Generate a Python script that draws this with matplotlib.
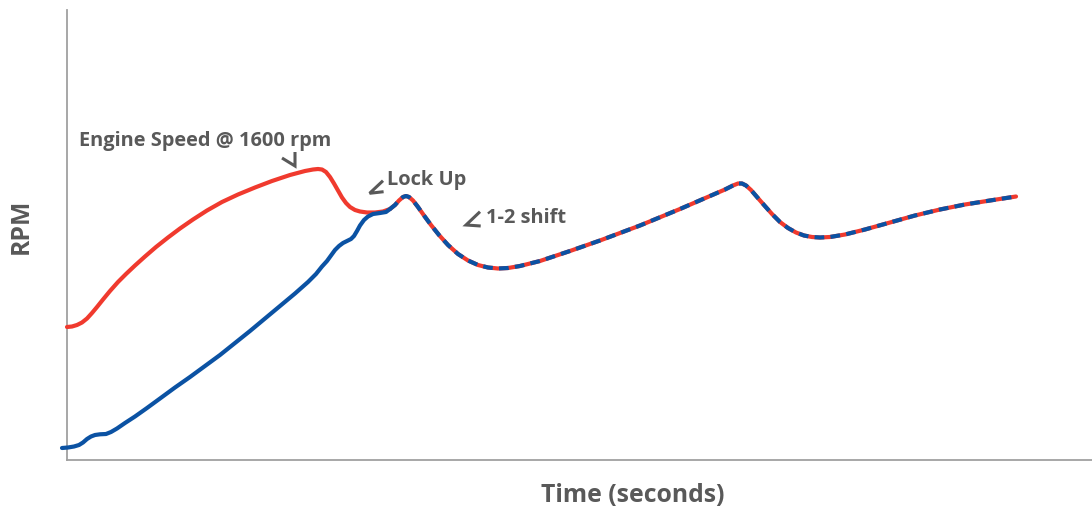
import matplotlib
matplotlib.use("Agg")
import matplotlib.pyplot as plt
import numpy as np

# ── Data (time and rpm in arbitrary chart units) ─────────────────────────────
engine_time = [0, 5, 10, 15, 20, 25, 30, 36, 43, 51,
               59, 68, 78, 89, 101, 113, 126, 140, 155, 171,
               188, 205, 223, 238, 246, 251, 255, 259, 263, 267,
               271, 275, 279, 283, 288, 293, 300, 308, 316, 323,
               328, 332, 336, 339, 342, 346, 351, 357, 364, 372,
               381, 391, 401, 411, 421, 431, 441, 453, 473, 503,
               533, 573, 613, 643, 658, 666, 671, 675, 679, 684,
               690, 697, 705, 713, 721, 729, 737, 745, 753, 763,
               778, 798, 823, 848, 873, 898, 923, 949]
engine_rpm = [133, 133.5, 135, 137.5, 141.5, 147, 153, 160.5, 169, 178,
              186, 194.5, 203.5, 213, 222.5, 231.5, 240.5, 249.5, 258, 265.5,
              272.5, 279, 285, 289, 290.5, 291, 290.5, 288, 283, 276.5,
              269.5, 262.5, 257, 253, 250, 248.5, 247.5, 247.5, 248.5, 251,
              255, 259.5, 263, 264, 263, 259.5, 253, 244.5, 235, 225,
              215, 206, 199.5, 195, 192.5, 191.5, 192, 194, 199, 209,
              219.5, 234.5, 251, 264, 270.5, 274.5, 276.5, 276.5, 274.5, 270,
              263, 255, 246, 238, 232, 227.5, 224.5, 223, 222.5, 223,
              225.5, 230.5, 237.5, 244.5, 250.5, 255.5, 259.5, 263.5]

turbine_time = [-5, 1, 7, 12, 16, 20, 24, 28, 33, 39,
                44, 50, 58, 68, 80, 93, 108, 123, 138, 153,
                168, 183, 198, 213, 228, 241, 249, 255, 260, 264,
                268, 272, 276, 280, 284, 287, 290, 293, 297, 301,
                306, 313, 319, 323]
turbine_rpm = [12, 12.5, 13.5, 15, 17.5, 21, 23.5, 25, 25.7, 26,
               28, 31.5, 37, 43.5, 52, 61.5, 72.5, 83, 94, 105,
               117, 129, 141.5, 154, 166.5, 178, 186, 193.5, 199, 204.5,
               210, 214, 217, 219, 221, 224, 229, 234.5, 240, 243.5,
               246, 247, 248, 251]

lockup_time = 323  # turbine follows engine from here on

labels = ["Engine Speed @ 1600 rpm", "Lock Up", "1-2 shift"]
label_time = [12, 320, 419]
label_rpm = [314, 275, 237]

RED = "#f03a2e"
BLUE = "#0b52a3"
GREY = "#595959"

plt.rcParams["font.family"] = ["Open Sans", "DejaVu Sans"]
plt.rcParams["lines.scale_dashes"] = False

fig = plt.figure(figsize=(10.92, 5.07), dpi=100)
ax = fig.add_axes([67 / 1092, 47 / 507, 1025 / 1092, 450 / 507])
ax.set_xlim(0, 1025)
ax.set_ylim(0, 450)

et = np.array(engine_time)
er = np.array(engine_rpm)

ax.plot(et, er, color=RED, lw=3, solid_capstyle="round",
        solid_joinstyle="round", clip_on=False, zorder=3)
ax.plot(turbine_time, turbine_rpm, color=BLUE, lw=3, solid_capstyle="round",
        solid_joinstyle="round", clip_on=False, zorder=4)
locked = et >= lockup_time
ax.plot(et[locked], er[locked], color=BLUE, lw=3, dashes=(7, 4.5),
        dash_joinstyle="round", clip_on=False, zorder=5)

# chevrons: pixel offsets (display, y up) from each label's anchor
chevrons = [
    [(203, -12), (216, -20), (216, -6)],
    [(-4, 4.3), (-17.4, -8.3), (-3.4, -6.7)],
    [(-6, 11.3), (-20, -2), (-5.3, -3)],
]
for txt, tx, ty, chev in zip(labels, label_time, label_rpm, chevrons):
    ax.text(tx, ty, txt, fontsize=14.4, fontweight="bold", color=GREY,
            ha="left", va="baseline")
    base = ax.transData.transform((tx, ty))
    pts = ax.transData.inverted().transform(base + np.array(chev, dtype=float))
    ax.plot(pts[:, 0], pts[:, 1], color=GREY, lw=2.2, solid_joinstyle="miter",
            solid_capstyle="butt", clip_on=False)

for side in ("top", "right"):
    ax.spines[side].set_visible(False)
for side in ("left", "bottom"):
    ax.spines[side].set_color("#a0a0a0")
    ax.spines[side].set_linewidth(1.3)
ax.set_xticks([])
ax.set_yticks([])

fig.text(633 / 1092, 1 - 502 / 507, "Time (seconds)", fontsize=17.8,
         fontweight="bold", color=GREY, ha="center", va="baseline")
fig.text(21 / 1092, 1 - 226 / 507, "RPM", fontsize=17.8, fontweight="bold",
         color=GREY, ha="center", va="center", rotation=90)

fig.savefig("out.png", dpi=100)
